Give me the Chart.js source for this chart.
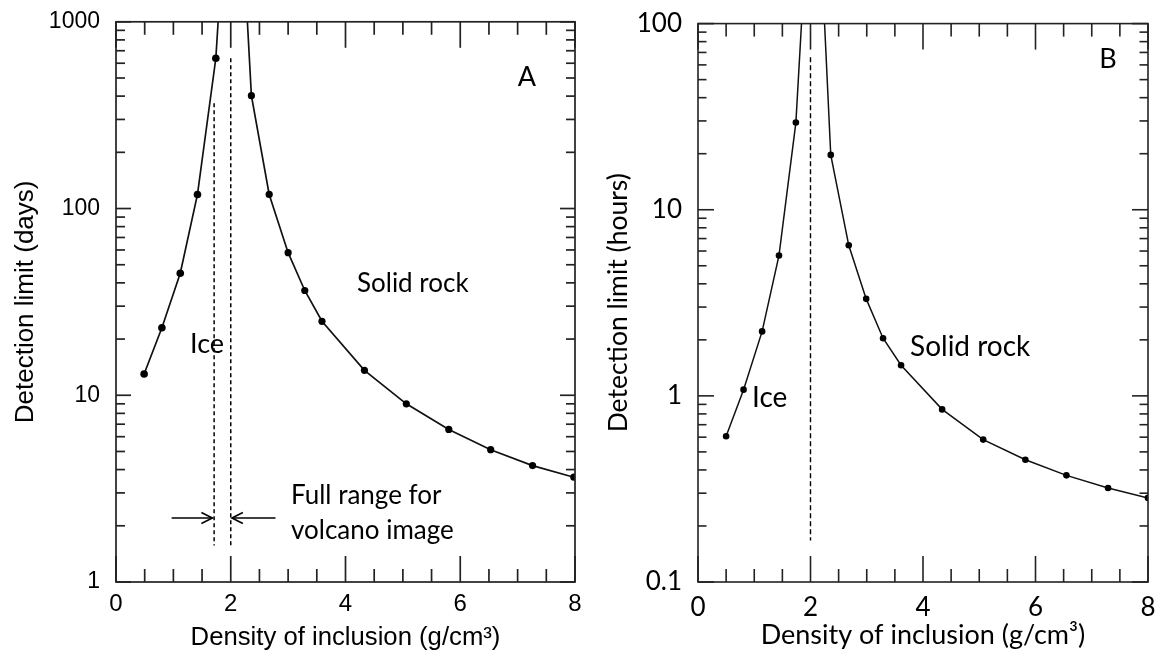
<!DOCTYPE html>
<html><head><meta charset="utf-8">
<script src="https://cdn.jsdelivr.net/npm/chart.js@4.4.1/dist/chart.umd.min.js"></script>
<style>
html,body{margin:0;padding:0;background:#fff;width:1160px;height:653px;overflow:hidden}
#ca{position:absolute;left:0;top:0}
#cb{position:absolute;left:590px;top:0}
</style></head><body>
<canvas id="ca" width="590" height="653"></canvas>
<canvas id="cb" width="570" height="653"></canvas>
<script>
// ---------- data ----------
const densityTicks = [0, 2, 4, 6, 8];
const daysTicks = [1, 10, 100, 1000];
const hoursTicks = [0.1, 1, 10, 100];

// Panel A (days)
const iceDensityA = [0.49, 0.80, 1.12, 1.42, 1.74, 1.78];
const iceDaysA    = [13, 23, 45, 119, 638, 1000];
const rockDensityA = [2.29, 2.36, 2.67, 3.00, 3.29, 3.59, 4.33, 5.06, 5.80, 6.53, 7.26, 7.98];
const rockDaysA    = [1000, 402, 119, 58, 36.4, 24.9, 13.6, 9.0, 6.56, 5.11, 4.2, 3.64];
const rangeLowDensityA  = [1.71, 1.71];
const rangeLowDaysA     = [366, 1.57];
const rangeHighDensityA = [2.0, 2.0];
const rangeHighDaysA    = [637, 1.57];

// Panel B (hours)
const iceDensityB = [0.50, 0.81, 1.14, 1.44, 1.74, 1.84];
const iceHoursB   = [0.607, 1.08, 2.22, 5.68, 29.4, 100];
const rockDensityB = [2.25, 2.36, 2.68, 2.99, 3.29, 3.61, 4.34, 5.07, 5.82, 6.55, 7.29, 8.0];
const rockHoursB   = [100, 19.7, 6.44, 3.32, 2.04, 1.46, 0.846, 0.582, 0.454, 0.374, 0.320, 0.283];
const markDensityB = [2.0, 2.0];
const markHoursB   = [66, 0.167];

function pts(xs, ys) { return xs.map((x, i) => ({x: x, y: ys[i]})); }

// ---------- frame + inward ticks + annotations ----------
const framePlugin = {
  id: 'frame',
  afterDatasetsDraw(chart, args, o) {
    const ctx = chart.ctx, a = chart.chartArea, x = chart.scales.x, y = chart.scales.y;
    ctx.save();
    ctx.strokeStyle = '#222';
    ctx.lineWidth = o.lw;
    const seg = (x1, y1, x2, y2) => { ctx.beginPath(); ctx.moveTo(x1, y1); ctx.lineTo(x2, y2); ctx.stroke(); };
    ctx.strokeRect(a.left, a.top, a.right - a.left, a.bottom - a.top);
    for (let k = 0; k <= 16; k++) {
      const v = k * 0.5, px = x.getPixelForValue(v);
      const L = (k % 4 === 0) ? o.xMaj : o.xMin;
      seg(px, a.bottom, px, a.bottom - L);
      seg(px, a.top, px, a.top + L);
    }
    const e0 = Math.round(Math.log10(y.min)), e1 = Math.round(Math.log10(y.max));
    for (let e = e0; e <= e1; e++) {
      for (let m = 1; m <= 9; m++) {
        if (e === e1 && m > 1) break;
        const v = m * Math.pow(10, e), py = y.getPixelForValue(v);
        const L = m === 1 ? o.yMaj : o.yMin;
        seg(a.left, py, a.left + L, py);
        seg(a.right, py, a.right - L, py);
      }
    }
    // arrows
    (o.arrows || []).forEach(ar => {
      const x1 = x.getPixelForValue(ar.from), x2 = x.getPixelForValue(ar.to), py = y.getPixelForValue(ar.y);
      ctx.strokeStyle = '#000'; ctx.lineWidth = 1.6;
      seg(x1, py, x2, py);
      const dir = Math.sign(x2 - x1);
      ctx.beginPath();
      ctx.moveTo(x2 - dir * 11, py - 5.5);
      ctx.lineTo(x2, py);
      ctx.lineTo(x2 - dir * 11, py + 5.5);
      ctx.stroke();
    });
    // texts
    ctx.fillStyle = '#000';
    (o.texts || []).forEach(t => {
      ctx.font = t.font;
      ctx.textAlign = t.align || 'left';
      ctx.textBaseline = 'middle';
      ctx.fillText(t.text, x.getPixelForValue(t.x), y.getPixelForValue(t.y));
    });
    ctx.restore();
  }
};

function makeChart(id, cfg) {
  return new Chart(document.getElementById(id), {
    type: 'line',
    data: { datasets: cfg.datasets },
    plugins: [framePlugin],
    options: {
      responsive: false, animation: false, devicePixelRatio: 1, events: [],
      layout: { padding: cfg.padding },
      plugins: { legend: { display: false }, tooltip: { enabled: false }, frame: cfg.frame },
      scales: {
        x: {
          type: 'linear', min: 0, max: 8,
          afterBuildTicks: s => { s.ticks = densityTicks.map(v => ({value: v})); },
          afterFit: s => { s.height = cfg.xHeight; },
          grid: { display: false }, border: { display: false },
          ticks: { color: '#000', font: cfg.xTickFont, padding: cfg.xPad, maxRotation: 0, autoSkip: false },
          title: { display: true, text: 'Density of inclusion (g/cm³)', color: '#000', font: cfg.xTitleFont, padding: { top: 0, bottom: cfg.xTitlePad } }
        },
        y: {
          type: 'logarithmic', min: cfg.yTicks[0], max: cfg.yTicks[cfg.yTicks.length - 1],
          afterBuildTicks: s => { s.ticks = cfg.yTicks.map(v => ({value: v})); },
          afterFit: s => { s.width = cfg.yWidth; },
          grid: { display: false }, border: { display: false },
          ticks: { color: '#000', font: cfg.tickFont, padding: cfg.yPad, autoSkip: false, callback: v => String(v) },
          title: { display: true, text: cfg.yTitle, color: '#000', font: cfg.yTitleFont, padding: { top: cfg.yTitlePad, bottom: 0 } }
        }
      }
    }
  });
}

function curve(data, max, r, lw) {
  return { data: data, borderColor: '#111', backgroundColor: '#000', borderWidth: lw,
    pointRadius: ctx => (ctx.raw && ctx.raw.y >= max) ? 0 : r, pointBorderWidth: 0, tension: 0 };
}
function dashed(data, lw, dash) {
  return { data: data, borderColor: '#000', borderWidth: lw, borderDash: dash, pointRadius: 0 };
}

const calibri = (s) => s + 'px Lato';

makeChart('ca', {
  datasets: [
    curve(pts(iceDensityA, iceDaysA), 1000, 3.8, 1.7),
    curve(pts(rockDensityA, rockDaysA), 1000, 3.6, 1.7),
    dashed(pts(rangeLowDensityA, rangeLowDaysA), 1.5, [4, 3]),
    dashed(pts(rangeHighDensityA, rangeHighDaysA), 1.5, [4, 3])
  ],
  padding: { top: 19, right: 15, left: 0, bottom: 0 },
  xHeight: 71, yWidth: 116, xPad: 0, yPad: 8, xTitlePad: 0, yTitlePad: 10,
  yTicks: daysTicks, yTitle: 'Detection limit (days)',
  tickFont: { family: 'Liberation Sans', size: 23 },
  xTickFont: { family: 'Liberation Sans', size: 24 },
  xTitleFont: { family: 'Liberation Sans', size: 25.7 },
  yTitleFont: { family: 'Liberation Sans', size: 26 },
  frame: {
    lw: 1.7, xMaj: 26, xMin: 13, yMaj: 15, yMin: 9,
    arrows: [ { from: 0.97, to: 1.68, y: 2.2 }, { from: 2.78, to: 2.02, y: 2.2 } ],
    texts: [
      { text: 'A', x: 7.16, y: 505, align: 'center', font: calibri(27) },
      { text: 'Ice', x: 1.29, y: 18.8, font: calibri(27) },
      { text: 'Solid rock', x: 4.2, y: 39.5, font: calibri(26) },
      { text: 'Full range for', x: 3.05, y: 2.9, font: calibri(26) },
      { text: 'volcano image', x: 3.05, y: 1.88, font: calibri(26) }
    ]
  }
});

makeChart('cb', {
  datasets: [
    curve(pts(iceDensityB, iceHoursB), 100, 3.3, 1.5),
    curve(pts(rockDensityB, rockHoursB), 100, 3.3, 1.5),
    dashed(pts(markDensityB, markHoursB), 1.4, [5, 3])
  ],
  padding: { top: 16, right: 12, left: 0, bottom: 0 },
  xHeight: 71, yWidth: 108, xPad: 2, yPad: 8, xTitlePad: 2, yTitlePad: 13,
  yTicks: hoursTicks, yTitle: 'Detection limit (hours)',
  tickFont: { family: 'Lato', size: 26 },
  xTickFont: { family: 'Lato', size: 26 },
  xTitleFont: { family: 'Lato', size: 27 },
  yTitleFont: { family: 'Lato', size: 26.5 },
  frame: {
    lw: 1.6, xMaj: 26, xMin: 13, yMaj: 16, yMin: 8.5,
    texts: [
      { text: 'B', x: 7.29, y: 64, align: 'center', font: calibri(27) },
      { text: 'Ice', x: 0.96, y: 0.98, font: calibri(28) },
      { text: 'Solid rock', x: 3.77, y: 1.84, font: calibri(28) }
    ]
  }
});
</script>
</body></html>
